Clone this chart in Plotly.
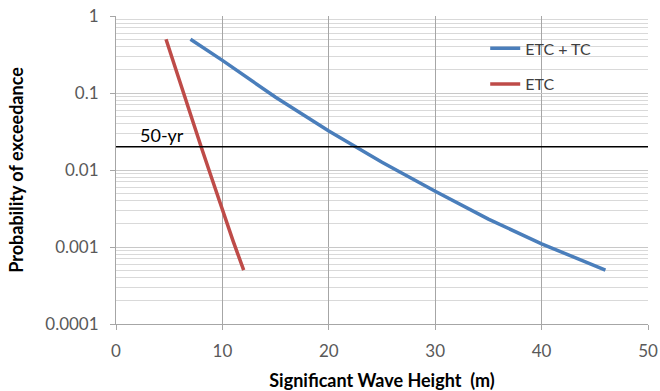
import math
import plotly.graph_objects as go

# Exceedance probability vs significant wave height
hs_all = [7, 10, 15, 20, 25, 30, 35, 40, 46]
p_all = [0.5, 0.265, 0.088, 0.032, 0.0126, 0.0053, 0.0023, 0.0011, 0.0005]

hs_etc = [4.7, 6, 7, 8, 9, 10, 11, 12]
p_etc = [0.5, 0.137, 0.052, 0.02, 0.0078, 0.003, 0.0012, 0.0005]

p_50yr = 0.02
x_ticks = [0, 10, 20, 30, 40, 50]
y_ticks = [1e-4, 1e-3, 1e-2, 1e-1, 1]
y_tick_text = ["0.0001", "0.001", "0.01", "0.1", "1"]
y_minor = [m * 10 ** e for e in range(-4, 0) for m in range(2, 10)]

FONT = "Lato, Calibri, Arial, sans-serif"
GRID = "#d9d9d9"
AXIS = "#a6a6a6"
TICK_COLOR = "#595959"

fig = go.Figure()
fig.add_trace(go.Scatter(x=hs_all, y=p_all, mode="lines", name="ETC + TC",
                         line=dict(color="#4a7ebb", width=3.5), legendgroup="a"))
fig.add_trace(go.Scatter(x=hs_etc, y=p_etc, mode="lines", name="ETC",
                         line=dict(color="#be4b48", width=3.5), legendgroup="b"))

# 50-year return level
fig.add_shape(type="line", xref="paper", x0=0, x1=1, yref="y", y0=p_50yr, y1=p_50yr,
              line=dict(color="black", width=1.5))
fig.add_annotation(x=4.3, y=math.log10(p_50yr), yref="y", text="50-yr", showarrow=False,
                   yanchor="bottom", yshift=-1, font=dict(family=FONT, size=18, color="black"))

fig.update_xaxes(range=[0, 50], tickvals=x_ticks, showgrid=True, gridcolor=AXIS, gridwidth=1,
                 zeroline=False, showline=True, linecolor=AXIS, ticks="outside", ticklen=5,
                 tickcolor=AXIS, ticklabelstandoff=7, automargin=False,
                 tickfont=dict(family=FONT, size=17, color=TICK_COLOR),
                 title=dict(text="<b>Significant Wave Height  (m)</b>", standoff=14,
                            font=dict(family=FONT, size=18, color="black")))
fig.update_yaxes(type="log", range=[-4, 0], tickvals=y_ticks, ticktext=y_tick_text,
                 showgrid=True, gridcolor="#c8c8c8", gridwidth=1, zeroline=False,
                 showline=True, linecolor=AXIS, ticks="outside", ticklen=5, tickcolor=AXIS,
                 ticklabelstandoff=8, automargin=False,
                 tickfont=dict(family=FONT, size=17, color=TICK_COLOR),
                 minor=dict(tickvals=y_minor, showgrid=True, gridcolor=GRID, gridwidth=1, ticks=""),
                 title=dict(text="<b>Probability of exceedance</b>", standoff=16,
                            font=dict(family=FONT, size=18, color="black")))

fig.update_layout(
    width=660, height=391,
    margin=dict(l=116, r=12, t=16, b=67),
    paper_bgcolor="white", plot_bgcolor="white",
    showlegend=True,
    legend=dict(x=0.694, y=0.95, xanchor="left", yanchor="top", bgcolor="rgba(0,0,0,0)",
                traceorder="grouped", tracegroupgap=12,
                font=dict(family=FONT, size=16, color="#404040")),
)

fig.write_html("out.html")
